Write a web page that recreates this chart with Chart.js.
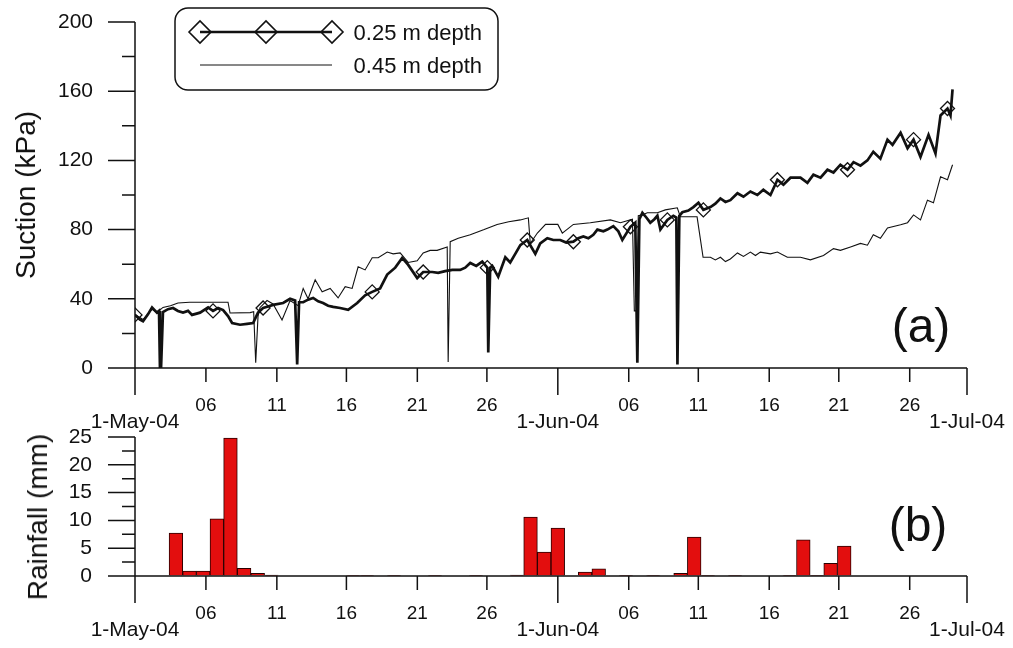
<!DOCTYPE html>
<html>
<head>
<meta charset="utf-8">
<script src="https://cdn.jsdelivr.net/npm/chart.js@4.4.0/dist/chart.umd.min.js"></script>
<style>
  body { margin: 0; background: #fff; width: 1013px; height: 648px; overflow: hidden; position: relative;
         font-family: "Liberation Sans", Arial, sans-serif; color: #111; }
  #wrapA { position: absolute; left: 0; top: 0; width: 1013px; height: 440px; }
  #wrapB { position: absolute; left: 0; top: 423px; width: 1013px; height: 225px; }
  .ytitle { position: absolute; font-size: 28px; white-space: nowrap; transform: translate(-50%, -50%) rotate(-90deg); }
  .panel { position: absolute; font-size: 48px; transform: translate(-50%, -50%); }
  #legend { position: absolute; left: 0; top: 0; }
</style>
</head>
<body>
<div id="wrapA"><canvas id="suction"></canvas></div>
<div id="wrapB"><canvas id="rain"></canvas></div>
<div class="ytitle" style="left:26px;top:195px">Suction (kPa)</div>
<div class="ytitle" style="left:38px;top:517px">Rainfall (mm)</div>
<div class="panel" style="left:921px;top:325px">(a)</div>
<div class="panel" style="left:918px;top:524px">(b)</div>
<svg id="legend" width="1013" height="100">
  <rect x="175" y="8" width="323" height="82" rx="13" fill="#fff" stroke="#111" stroke-width="1.5"/>
  <line x1="200" y1="32" x2="332" y2="32" stroke="#111" stroke-width="2.6"/>
  <polygon points="189,32 200,21 211,32 200,43" fill="none" stroke="#111" stroke-width="1.6"/>
  <polygon points="255,32 266,21 277,32 266,43" fill="none" stroke="#111" stroke-width="1.6"/>
  <polygon points="321,32 332,21 343,32 332,43" fill="none" stroke="#111" stroke-width="1.6"/>
  <line x1="200" y1="65" x2="332" y2="65" stroke="#111" stroke-width="1"/>
  <text x="482" y="32" text-anchor="end" dominant-baseline="central" font-size="22" font-family="Liberation Sans, Arial, sans-serif" fill="#111">0.25 m depth</text>
  <text x="482" y="65" text-anchor="end" dominant-baseline="central" font-size="22" font-family="Liberation Sans, Arial, sans-serif" fill="#111">0.45 m depth</text>
</svg>
<script>
// days counted from 1-May-04
var tickDays = [0, 5.2, 10.4, 15.5, 20.7, 25.8, 31, 36.2, 41.3, 46.5, 51.6, 56.8, 61];
var tickLabels = [['', '1-May-04'], '06', '11', '16', '21', '26', ['', '1-Jun-04'], '06', '11', '16', '21', '26', ['', '1-Jul-04']];

// suction at 0.25 m depth
var days25 = [0, 0.37, 0.59, 0.95, 1.25, 1.61, 1.76, 1.83, 1.91, 2.05, 2.42, 2.79, 3.15, 3.52, 3.89, 4.18, 4.77, 5.36, 5.72, 6.09,
  6.46, 6.82, 7.12, 7.7, 8.22, 8.66, 9.02, 9.39, 9.76, 10.12, 10.86, 11.37, 11.74, 11.89, 12.03, 12.33, 12.69, 13.06, 13.43, 13.79,
  14.16, 14.53, 15.04, 15.63, 16.29, 16.87, 17.39, 17.97, 18.49, 19.08, 19.59, 20.03, 20.69, 21.13, 21.79, 22.23, 22.74, 23.26, 23.84, 24.21,
  24.58, 25.02, 25.46, 25.83, 25.9, 26.04, 26.19, 26.63, 27.15, 27.51, 27.88, 28.25, 28.76, 29.35, 29.71, 30.23, 30.67, 31.18, 31.62, 32.14,
  32.5, 32.87, 33.24, 33.6, 33.9, 34.34, 34.63, 35.07, 35.44, 35.73, 36.32, 36.68, 36.83, 36.98, 37.2, 37.49, 37.78, 38.08, 38.3, 38.52,
  39.03, 39.47, 39.69, 39.77, 39.91, 40.13, 40.57, 40.94, 41.31, 41.67, 42.19, 42.55, 42.92, 43.29, 43.65, 44.17, 44.61, 45.12, 45.63, 46.07,
  46.59, 47.1, 47.54, 48.06, 48.79, 49.3, 49.74, 50.26, 50.77, 51.21, 51.72, 52.24, 52.68, 53.19, 53.7, 54.13, 54.65, 55.17, 55.54, 56.13,
  56.64, 57.08, 57.59, 58.18, 58.69, 59.06, 59.57, 59.79, 59.94];
var suction25 = [30.7, 28, 27, 31, 35, 32, 33, 0, 0, 32.4, 34, 34.7, 33, 32, 33, 30.7, 32, 35, 33, 34.7,
  33.5, 30, 26, 25, 25.5, 26, 32, 34.7, 35.5, 36.5, 37.6, 40, 39, 2, 38, 38, 39.5, 40.5, 38.5, 37.6,
  36, 35.3, 34.7, 33.6, 37.6, 42, 44, 46, 54, 58, 63.6, 59.6, 52, 55.5, 55.5, 55, 56, 56.7, 56.7, 58,
  60.7, 59, 61.5, 58, 9, 58, 59, 52.7, 64, 61, 66, 71, 74, 66, 72, 75, 74, 74, 72.5, 73,
  75, 76, 75, 77, 80, 79, 80, 82, 79, 74, 81.6, 84, 3, 86, 89.7, 87, 84, 86, 88, 80,
  85.6, 88, 87, 2, 88, 90, 91, 93, 95.5, 91.4, 93, 95, 98, 96, 97, 101, 99, 102, 100, 103,
  100, 108.8, 106, 110, 110, 107, 111.7, 110, 114.6, 113, 117.5, 114.6, 119, 117, 120, 125, 121, 132, 129, 136,
  127, 132, 122, 134.8, 124, 146, 150, 146, 161];
var markerDays = [0, 5.7, 9.4, 17.4, 21.1, 25.8, 28.8, 32.1, 36.3, 39.0, 41.7, 47.1, 52.2, 57.1, 59.6];

// suction at 0.45 m depth
var days45 = [0, 0.59, 1.25, 1.61, 2.05, 2.6, 3.15, 4.0, 5.5, 6.82, 6.97, 8.44, 8.7, 8.85, 9.02, 9.17, 9.68, 10.12, 10.78, 11.37,
  11.96, 12.33, 12.69, 13.21, 13.72, 14.31, 14.89, 15.41, 15.92, 16.36, 16.87, 17.39, 17.83, 18.49, 18.93, 19.44, 20.03, 20.69, 21.13, 21.64,
  22.15, 22.89, 22.96, 23.11, 23.7, 24.58, 25.6, 26.55, 27.4, 28.25, 28.84, 28.98, 29.5, 30.1, 31.0, 31.33, 32.14, 33.38, 34.85, 35.59,
  36.47, 36.61, 36.76, 36.9, 37.2, 37.56, 38.3, 38.88, 39.76, 39.98, 41.21, 41.65, 42.19, 42.55, 42.92, 43.29, 43.65, 44.17, 44.61, 45.12,
  45.49, 45.85, 46.59, 47.1, 47.83, 48.79, 49.52, 50.48, 51.21, 51.72, 52.46, 53.19, 53.7, 54.13, 54.65, 55.17, 56.13, 56.64, 57.08, 57.59,
  58.1, 58.54, 59.06, 59.57, 59.94];
var suction45 = [31, 28, 34, 32, 35, 36, 37.6, 38, 38, 38, 31.8, 32, 32.5, 3, 30, 35, 39, 37, 27.8, 39,
  36, 46, 40, 51, 44, 46, 40.5, 47, 46, 58.5, 56.7, 63.7, 63.7, 67, 66, 66.5, 61, 62, 66.5, 68,
  68, 70, 3.5, 73, 75, 77, 80, 83, 84.5, 85.6, 86.8, 72, 78, 83, 83, 78, 83, 84, 85.6, 84,
  86, 33, 33, 88, 88.5, 89.7, 89.7, 91.4, 92.6, 87.4, 87.4, 64, 64, 62.5, 64, 61.5, 63, 66.5, 64.5, 67,
  65, 67, 66, 67, 64, 64, 62.5, 65, 69, 68, 70, 72, 71, 77, 75, 81, 82.8, 84, 88.5, 85.6,
  97, 95.5, 110.5, 108.8, 117.5];

// daily rainfall
var rainDays = [3, 4, 5, 6, 7, 8, 9, 10, 16, 17, 19, 22, 25, 28, 29, 30, 31, 33, 34, 36, 38, 40, 41, 42, 44, 48, 49, 50, 51, 52];
var rainMm = [7.7, 0.9, 0.9, 10.3, 24.8, 1.4, 0.5, 0.15, 0.1, 0.1, 0.1, 0.1, 0.1, 0.15, 10.6, 4.3, 8.6, 0.7, 1.3, 0.1, 0.1, 0.5, 7.0, 0.1, 0.1, 0.1, 6.5, 0.1, 2.3, 5.4];

var FONT = '"Liberation Sans", Arial, sans-serif';
var INK = '#111';

function pairs(xs, ys) {
  return xs.map(function(d, i) { return { x: d, y: ys[i] }; });
}

var markerIdx = markerDays.map(function(m) {
  var best = 0;
  days25.forEach(function(d, i) { if (Math.abs(d - m) < Math.abs(days25[best] - m)) best = i; });
  return best;
});

// axis lines + major/minor tick marks, drawn from the chart's scales
var axisLines = {
  id: 'axisLines',
  afterDraw: function(chart, args, opts) {
    var ctx = chart.ctx, x = chart.scales.x, y = chart.scales.y;
    var x0 = x.getPixelForValue(x.min), y0 = y.getPixelForValue(y.min);
    ctx.save();
    ctx.strokeStyle = INK;
    ctx.lineWidth = 1.5;
    ctx.beginPath();
    ctx.moveTo(x0, y.getPixelForValue(y.max));
    ctx.lineTo(x0, y0);
    ctx.moveTo(x0, y0);
    ctx.lineTo(x.getPixelForValue(x.max), y0);
    var n = Math.round((y.max - y.min) / opts.minor);
    for (var k = 0; k <= n; k++) {
      var py = y.getPixelForValue(y.min + k * opts.minor);
      ctx.moveTo(x0 - (k % 2 === 0 ? 27 : 13), py);
      ctx.lineTo(x0, py);
    }
    tickDays.forEach(function(d, i) {
      var px = x.getPixelForValue(d);
      ctx.moveTo(px, y0);
      ctx.lineTo(px, y0 + (Array.isArray(tickLabels[i]) ? 27 : 14));
    });
    ctx.stroke();
    ctx.restore();
  }
};

// invisible tick marks only used to push the labels away from the axis
function spacer(len) {
  return { display: true, drawOnChartArea: false, drawTicks: true, tickLength: len, color: 'rgba(0,0,0,0)' };
}

function xScale() {
  return {
    type: 'linear', min: 0, max: 61, offset: false,
    afterBuildTicks: function(s) { s.ticks = tickDays.map(function(d) { return { value: d }; }); },
    afterFit: function(s) { s.height = 72; },
    grid: spacer(31),
    border: { display: false },
    ticks: {
      autoSkip: false, maxRotation: 0, padding: 0, color: INK,
      callback: function(v, i) { return tickLabels[i]; },
      font: function(c) {
        return Array.isArray(tickLabels[c.index]) ? { family: FONT, size: 21, lineHeight: 0.75 } : { family: FONT, size: 19, lineHeight: 0.75 };
      }
    }
  };
}

function yScale(max, step, gap) {
  return {
    min: 0, max: max,
    afterFit: function(s) { s.width = 135; },
    grid: spacer(gap),
    border: { display: false },
    ticks: { stepSize: step, autoSkip: false, padding: 0, color: INK, font: { family: FONT, size: 21 } }
  };
}

new Chart(document.getElementById('suction'), {
  type: 'line',
  data: {
    datasets: [{
      label: '0.25 m depth',
      data: pairs(days25, suction25),
      borderColor: INK, borderWidth: 2.7, tension: 0,
      pointStyle: 'rectRot',
      pointRadius: function(c) { return markerIdx.indexOf(c.dataIndex) >= 0 ? 7 : 0; },
      pointBorderColor: INK, pointBorderWidth: 1.3, pointBackgroundColor: 'rgba(0,0,0,0)'
    }, {
      label: '0.45 m depth',
      data: pairs(days45, suction45),
      borderColor: INK, borderWidth: 1.1, tension: 0, pointRadius: 0
    }]
  },
  options: {
    responsive: true, maintainAspectRatio: false, animation: false, events: [],
    layout: { padding: { top: 22, right: 46, left: 0, bottom: 0 } },
    plugins: { legend: { display: false }, tooltip: { enabled: false }, axisLines: { minor: 20 } },
    scales: { x: xScale(), y: yScale(200, 40, 42) }
  },
  plugins: [axisLines]
});

new Chart(document.getElementById('rain'), {
  type: 'bar',
  data: {
    datasets: [{
      label: 'Rainfall',
      data: pairs(rainDays, rainMm),
      backgroundColor: '#e30e0e', borderColor: '#2a0000', borderWidth: 1,
      barPercentage: 1, categoryPercentage: 1
    }]
  },
  options: {
    responsive: true, maintainAspectRatio: false, animation: false, events: [],
    layout: { padding: { top: 14, right: 46, left: 0, bottom: 0 } },
    plugins: { legend: { display: false }, tooltip: { enabled: false }, axisLines: { minor: 2.5 } },
    scales: { x: xScale(), y: yScale(25, 5, 43) }
  },
  plugins: [axisLines]
});
</script>
</body>
</html>
